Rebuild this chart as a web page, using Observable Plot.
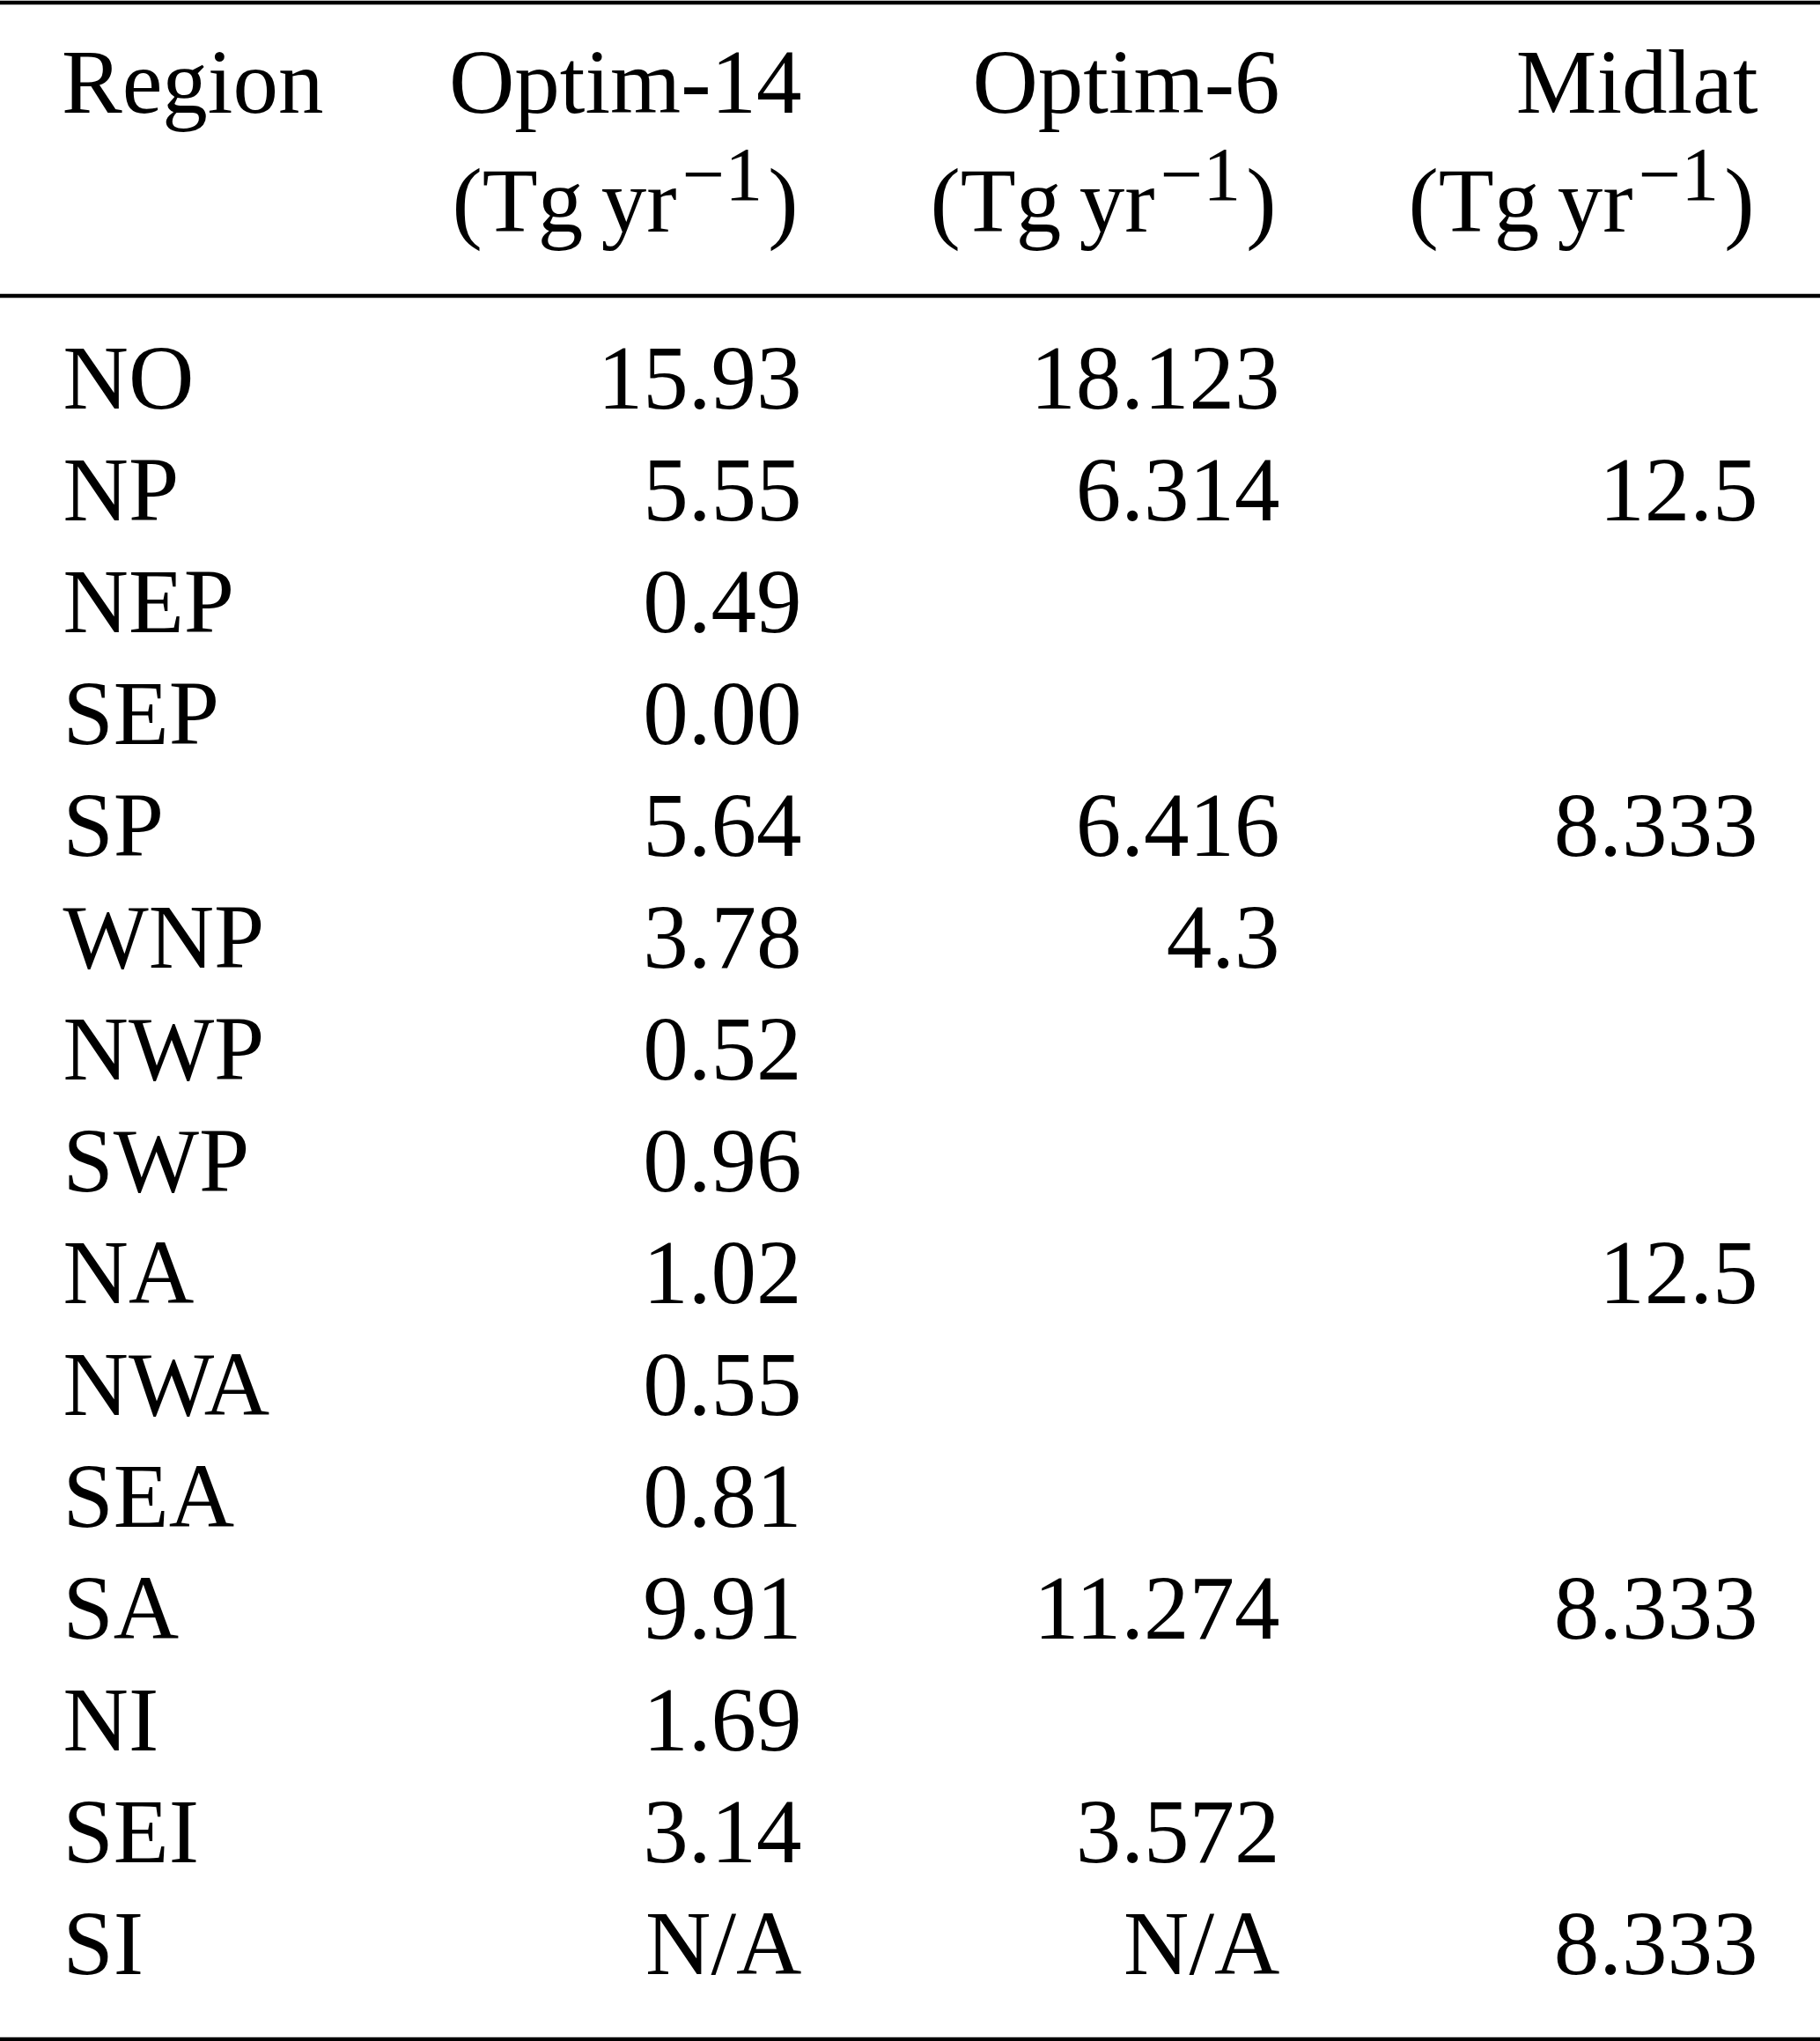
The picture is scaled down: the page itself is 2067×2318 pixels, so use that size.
<!DOCTYPE html>
<html><head><meta charset="utf-8">
<script src="https://cdn.jsdelivr.net/npm/d3@7"></script>
<script src="https://cdn.jsdelivr.net/npm/@observablehq/plot@0.6"></script>
<style>
html,body{margin:0;padding:0;background:#fff;}
#chart svg{display:block;}
</style>
</head><body><div id="chart"></div>
<script>
const columns = ["Region", "Optim-14", "Optim-6", "Midlat"];
const regions = ["NO","NP","NEP","SEP","SP","WNP","NWP","SWP","NA","NWA","SEA","SA","NI","SEI","SI"];
const optim14 = ["15.93","5.55","0.49","0.00","5.64","3.78","0.52","0.96","1.02","0.55","0.81","9.91","1.69","3.14","N/A"];
const optim6  = ["18.123","6.314","","","6.416","4.3","","","","","","11.274","","3.572","N/A"];
const midlat  = ["","12.5","","","8.333","","","","12.5","","","8.333","","","8.333"];
const unitText = "(Tg\u2009yr\u22121)";

const valueCells = [];
regions.forEach((r, i) => {
  valueCells.push({col: "Optim-14", row: r, text: optim14[i]});
  valueCells.push({col: "Optim-6", row: r, text: optim6[i]});
  valueCells.push({col: "Midlat", row: r, text: midlat[i]});
});
const regionCells = regions.map(r => ({col: "Region", row: r, text: r}));

const font = "'Liberation Serif', 'Times New Roman', serif";
const fs = 103;

const chart = Plot.plot({
  width: 2067,
  height: 2318,
  margin: 0,
  style: {fontFamily: font, fontSize: fs + "px", background: "#fff", color: "#000"},
  x: {type: "point", domain: columns, range: [366, 1996], padding: 0, axis: null},
  y: {type: "point", domain: regions, range: [460, 2243], padding: 0, axis: null},
  marks: [
    Plot.frame({anchor: "top", insetTop: 2.5, stroke: "#000", strokeWidth: 4.5}),
    Plot.frame({anchor: "top", insetTop: 335.5, stroke: "#000", strokeWidth: 4.5}),
    Plot.frame({anchor: "bottom", insetBottom: 2.5, stroke: "#000", strokeWidth: 4.5}),
    Plot.text(columns, {x: d => d, text: d => d, frameAnchor: "top", dy: 127, lineAnchor: "bottom", textAnchor: "end", fontSize: fs, fill: "#000"}),
    Plot.text(columns.slice(1), {x: d => d, text: () => unitText, frameAnchor: "top", dy: 262, dx: -4, lineAnchor: "bottom", textAnchor: "end", fontSize: fs, fill: "#000", className: "unit-label"}),
    Plot.text(regionCells, {x: "col", y: "row", text: "text", textAnchor: "start", dx: -296, lineAnchor: "bottom", fontSize: fs, fill: "#000"}),
    Plot.text(valueCells, {x: "col", y: "row", text: "text", textAnchor: "end", lineAnchor: "bottom", fontSize: fs, fill: "#000"})
  ]
});

// render the unit exponent as a real superscript
d3.select(chart).selectAll(".unit-label text").each(function() {
  const t = d3.select(this);
  const s = t.text();
  const base = s.slice(0, s.indexOf("\u2212"));
  t.text(null);
  t.append("tspan").text(base);
  t.append("tspan").attr("font-size", 86).attr("dy", -36).attr("dx", 6).text("\u22121");
  t.append("tspan").attr("dy", 36).attr("dx", 6).text(")");
});

document.getElementById("chart").append(chart);
</script>
</body></html>
